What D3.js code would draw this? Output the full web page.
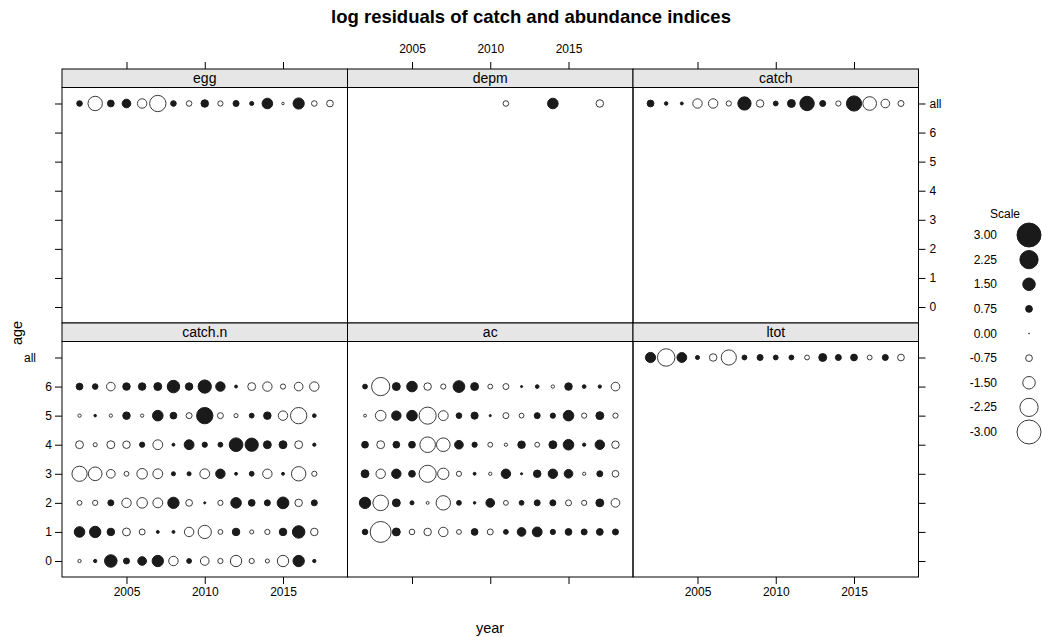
<!DOCTYPE html>
<html><head><meta charset="utf-8">
<script src="https://cdn.jsdelivr.net/npm/d3@7"></script>
<style>body{margin:0;background:#fff}svg{display:block}text{font-family:"Liberation Sans",Arial,sans-serif;fill:#000}</style>
</head><body><svg id="c" width="1042" height="637"></svg>
<script>
// ---------- data ----------
const years17 = [2002,2003,2004,2005,2006,2007,2008,2009,2010,2011,2012,2013,2014,2015,2016,2017,2018];
const years16 = [2002,2003,2004,2005,2006,2007,2008,2009,2010,2011,2012,2013,2014,2015,2016,2017];
const depmYears = [2011,2014,2017];
const ageLevels = ["0","1","2","3","4","5","6","all"];
const yearTicks = [2005,2010,2015];
const legendValues = [3.00,2.25,1.50,0.75,0.00,-0.75,-1.50,-2.25,-3.00];
const legendLabels = ["3.00","2.25","1.50","0.75","0.00","-0.75","-1.50","-2.25","-3.00"];

const eggAll   = [0.6,-1.75,0.75,1.0,-1.1,-2.0,0.6,-0.6,0.85,-0.55,0.65,0.4,1.25,-0.2,1.33,-0.6,-0.75];
const depmAll  = [-0.6,1.25,-0.85];
const catchAll = [0.75,0.33,0.25,-1.1,-1.1,-0.55,1.6,-0.85,0.5,0.9,1.75,0.65,-0.55,1.85,-1.65,-1.0,-0.65];
const ltotAll  = [1.2,-2.15,1.15,0.4,-0.85,-1.85,0.5,0.65,0.5,0.5,-0.5,0.9,0.65,0.75,-0.5,0.65,-0.75];

const catchNAge0 = [-0.3,0.3,1.5,0.65,1.0,1.35,-1.1,0.5,-1.0,-0.55,-1.35,-0.55,-0.4,-1.35,1.35,0.3];
const catchNAge1 = [1.25,1.35,0.85,-0.9,-0.65,0.25,0.25,-1.1,-1.6,-0.5,0.85,-0.4,-0.55,0.85,1.5,-0.85];
const catchNAge2 = [-0.5,-0.55,0.65,-1.1,-1.25,-1.15,1.35,-0.75,0.15,-0.55,1.25,0.75,0.65,1.4,-0.85,0.65];
const catchNAge3 = [-1.85,-1.65,-1.0,-0.5,-1.25,-1.15,0.4,0.4,-1.15,1.1,0.25,0.5,-1.1,0.25,-1.75,-0.55];
const catchNAge4 = [-0.9,-0.4,-0.9,-0.85,0.55,-1.15,0.25,1.15,0.55,0.5,1.65,1.6,0.9,0.9,-0.9,0.3];
const catchNAge5 = [-0.3,0.2,-0.3,0.85,-0.3,1.25,0.75,-0.65,2.0,-0.65,-0.4,0.5,0.85,-1.1,-2.0,0.35];
const catchNAge6 = [0.75,0.6,-1.0,0.85,0.85,0.9,1.5,0.85,1.6,1.1,0.25,-0.9,-1.1,-0.55,-1.0,-1.1];

const acAge1 = [0.6,-2.6,0.9,-0.6,-0.85,-1.1,-0.5,0.75,-0.65,0.5,1.0,1.15,0.55,0.75,0.65,0.75,0.65];
const acAge2 = [1.35,-1.9,0.9,0.4,-0.25,-1.75,0.5,0.2,1.0,-0.5,0.5,0.65,0.65,-0.65,-0.55,0.9,-1.0];
const acAge3 = [0.9,-1.1,1.1,0.75,-2.1,-1.35,-0.55,0.25,-0.3,1.1,0.15,0.85,1.1,1.0,-0.3,0.65,-0.75];
const acAge4 = [0.75,-0.9,0.75,0.75,-1.9,-1.65,1.0,0.55,-0.5,-0.3,0.85,-0.5,0.9,1.25,0.3,1.1,-0.85];
const acAge5 = [-0.25,-1.25,1.1,1.25,-2.1,-1.15,0.6,0.8,0.15,-0.65,-0.5,0.65,0.55,1.25,-0.55,0.9,-0.55];
const acAge6 = [0.5,-2.25,0.9,1.25,-0.85,-0.55,1.4,0.9,-0.5,-0.65,0.15,0.35,-0.3,0.85,0.35,0.3,-1.0];

// ---------- build long tables ----------
function rows(age, yrs, vals){ return vals.map((v,i)=>({year:yrs[i], age:age, v:v})); }
const panels = [
  {name:"egg",   col:0,row:0, data:rows("all",years17,eggAll)},
  {name:"depm",  col:1,row:0, data:rows("all",depmYears,depmAll)},
  {name:"catch", col:2,row:0, data:rows("all",years17,catchAll)},
  {name:"catch.n",col:0,row:1, data:[].concat(
      rows("0",years16,catchNAge0),rows("1",years16,catchNAge1),rows("2",years16,catchNAge2),
      rows("3",years16,catchNAge3),rows("4",years16,catchNAge4),rows("5",years16,catchNAge5),
      rows("6",years16,catchNAge6))},
  {name:"ac",    col:1,row:1, data:[].concat(
      rows("1",years17,acAge1),rows("2",years17,acAge2),rows("3",years17,acAge3),
      rows("4",years17,acAge4),rows("5",years17,acAge5),rows("6",years17,acAge6))},
  {name:"ltot",  col:2,row:1, data:rows("all",years17,ltotAll)}
];

// ---------- layout ----------
const svg = d3.select("#c");
const colX = [62, 347.5, 633, 918.5];
const rowsY = [{strip:69, top:87.5, bottom:323},{strip:323, top:341.5, bottom:577}];
const fillPos = "#1a1a1a", strokeNeg = "#3a3a3a";
const rScale = d3.scaleLinear().domain([0,3]).range([0.5,12]);
const tickLen = 7;
const fs = "12px";

svg.append("text").attr("x",531).attr("y",23).attr("text-anchor","middle")
  .style("font-weight","bold").style("font-size","18.5px")
  .text("log residuals of catch and abundance indices");

panels.forEach(p=>{
  const x0 = colX[p.col], x1 = colX[p.col+1];
  const R = rowsY[p.row];
  const x = d3.scaleLinear().domain([2000.88,2019.12]).range([x0,x1]);
  const y = d3.scalePoint().domain(ageLevels).range([R.bottom,R.top]).padding(0.55);
  const g = svg.append("g");
  // strip
  g.append("rect").attr("x",x0).attr("y",R.strip).attr("width",x1-x0).attr("height",R.top-R.strip)
    .attr("fill","#e6e6e6").attr("stroke","#000").attr("stroke-width",1);
  g.append("text").attr("x",(x0+x1)/2).attr("y",(R.strip+R.top)/2+5).attr("text-anchor","middle")
    .style("font-size","14px").text(p.name);
  // panel
  g.append("rect").attr("x",x0).attr("y",R.top).attr("width",x1-x0).attr("height",R.bottom-R.top)
    .attr("fill","none").attr("stroke","#000").attr("stroke-width",1);
  // points
  g.selectAll("circle.pt").data(p.data).join("circle").attr("class","pt")
    .attr("cx",d=>x(d.year)).attr("cy",d=>y(d.age))
    .attr("r",d=>rScale(Math.abs(d.v)))
    .attr("fill",d=>d.v>0?fillPos:"#fff")
    .attr("stroke",d=>d.v>0?fillPos:strokeNeg).attr("stroke-width",1);

  // axes
  if(p.row===1){ // bottom axis
    const ax = d3.axisBottom(x).tickValues(yearTicks).tickSize(tickLen).tickPadding(3).tickFormat(p.col===1?()=>"":d3.format("d"));
    const a = svg.append("g").attr("transform",`translate(0,${R.bottom})`).call(ax);
    a.select(".domain").remove(); a.selectAll("text").style("font-size",fs);
  }
  if(p.row===0){ // top axis
    const ax = d3.axisTop(x).tickValues(yearTicks).tickSize(tickLen).tickPadding(9).tickFormat(p.col===1?d3.format("d"):()=>"");
    const a = svg.append("g").attr("transform",`translate(0,${R.strip})`).call(ax);
    a.select(".domain").remove(); a.selectAll("text").style("font-size",fs);
  }
  if(p.col===0){ // left axis
    const ax = d3.axisLeft(y).tickSize(tickLen).tickPadding(3).tickFormat(p.row===1?(d=>d):()=>"");
    const a = svg.append("g").attr("transform",`translate(${x0},0)`).call(ax);
    a.select(".domain").remove(); a.selectAll("text").style("font-size",fs)
      .attr("dx",d=>d==="all"?"-16":"0");
  }
  if(p.col===2){ // right axis
    const ax = d3.axisRight(y).tickSize(tickLen).tickPadding(4).tickFormat(p.row===0?(d=>d):()=>"");
    const a = svg.append("g").attr("transform",`translate(${x1},0)`).call(ax);
    a.select(".domain").remove(); a.selectAll("text").style("font-size",fs);
  }
});

// axis titles
svg.append("text").attr("x",490).attr("y",633).attr("text-anchor","middle").style("font-size","14.5px").text("year");
svg.append("text").attr("transform","translate(22,333) rotate(-90)").attr("text-anchor","middle").style("font-size","14.5px").text("age");

// legend
const lg = svg.append("g");
lg.append("text").attr("x",1005).attr("y",218).attr("text-anchor","middle").style("font-size",fs).text("Scale");
const ly = d3.scalePoint().domain(legendLabels).range([235,432]);
legendValues.forEach((v,i)=>{
  const yy = ly(legendLabels[i]);
  lg.append("text").attr("x",997).attr("y",yy+4).attr("text-anchor","end").style("font-size",fs).text(legendLabels[i]);
  lg.append("circle").attr("cx",1029).attr("cy",yy).attr("r",rScale(Math.abs(v)))
    .attr("fill",v>0?fillPos:"#fff").attr("stroke",v>0?fillPos:strokeNeg).attr("stroke-width",1);
});
</script></body></html>
